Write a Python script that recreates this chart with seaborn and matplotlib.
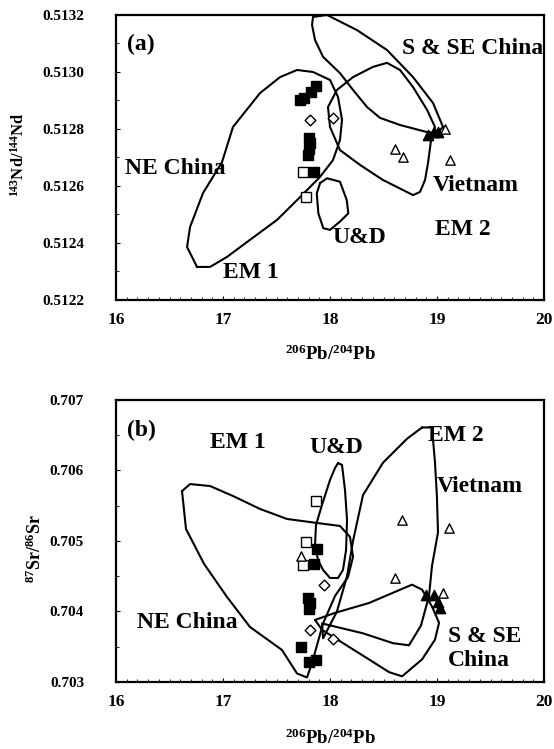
import numpy as np
import pandas as pd
import matplotlib
matplotlib.use("Agg")
import matplotlib.pyplot as plt
import seaborn as sns
from matplotlib.ticker import MultipleLocator, FormatStrFormatter

# ---------------- data : panel (a)  206Pb/204Pb vs 143Nd/144Nd ----------------
a_fsq_x = [17.87, 17.82, 17.76, 17.72, 17.80, 17.81, 17.80, 17.79, 17.85]
a_fsq_y = [0.51295, 0.51293, 0.51291, 0.51290, 0.51277, 0.51275, 0.51273, 0.51271, 0.51265]
a_osq_x = [17.75, 17.78]
a_osq_y = [0.51265, 0.51256]
a_odia_x = [17.81, 18.03]
a_odia_y = [0.51283, 0.51284]
a_ftri_x = [18.92, 18.97, 19.01]
a_ftri_y = [0.51278, 0.51279, 0.51279]
a_otri_x = [18.61, 18.68, 19.12, 19.07]
a_otri_y = [0.51273, 0.51270, 0.51269, 0.51280]

# field outlines (a)
a_ne_x = [16.757, 16.879, 17.037, 17.252, 17.505, 17.720, 17.907, 18.028, 18.093, 18.112,
          18.075, 18.000, 17.841, 17.692, 17.533, 17.346, 17.093, 16.991, 16.813, 16.692, 16.664]
a_ne_y = [0.512316, 0.512316, 0.512351, 0.512411, 0.512481, 0.512561, 0.512632, 0.512691, 0.512761, 0.512832,
          0.512912, 0.512972, 0.513000, 0.513007, 0.512982, 0.512926, 0.512807, 0.512684, 0.512575, 0.512456, 0.512386]
a_ud_x = [17.907, 17.972, 18.093, 18.156, 18.171, 18.093, 18.000, 17.937, 17.891, 17.876]
a_ud_y = [0.512610, 0.512627, 0.512615, 0.512551, 0.512504, 0.512475, 0.512446, 0.512452, 0.512504, 0.512574]
a_sse_x = [17.841, 17.972, 18.252, 18.533, 18.776, 18.963, 19.056, 19.000, 18.907, 18.654, 18.467,
           18.346, 18.215, 18.093, 17.935, 17.860, 17.832]
a_sse_y = [0.513193, 0.513200, 0.513147, 0.513077, 0.512982, 0.512891, 0.512807, 0.512786, 0.512789, 0.512814, 0.512839,
           0.512877, 0.512937, 0.512996, 0.513053, 0.513112, 0.513165]
a_vn_x = [18.953, 18.916, 18.888, 18.841, 18.776, 18.495, 18.280, 18.093, 18.000, 17.981, 18.065,
          18.215, 18.402, 18.533, 18.654, 18.776, 18.907, 18.981]
a_vn_y = [0.512786, 0.512681, 0.512621, 0.512579, 0.512568, 0.512621, 0.512674, 0.512726, 0.512807, 0.512877, 0.512937,
          0.512982, 0.513018, 0.513032, 0.513007, 0.512947, 0.512867, 0.512807]

# ---------------- data : panel (b)  206Pb/204Pb vs 87Sr/86Sr ----------------
b_fsq_x = [17.88, 17.85, 17.79, 17.81, 17.80, 17.73, 17.80, 17.87]
b_fsq_y = [0.70489, 0.70467, 0.70419, 0.70412, 0.70403, 0.70349, 0.70329, 0.70331]
b_osq_x = [17.87, 17.78, 17.75]
b_osq_y = [0.70556, 0.70499, 0.70466]
b_odia_x = [17.94, 17.81, 18.03]
b_odia_y = [0.70438, 0.70374, 0.70361]
b_otri_x = [17.73, 18.67, 19.11, 18.61, 19.06]
b_otri_y = [0.70478, 0.70530, 0.70519, 0.70447, 0.70426]
b_ftri_x = [18.90, 18.97, 19.01, 19.03]
b_ftri_y = [0.70423, 0.70423, 0.70414, 0.70405]

b_ud_x = [18.075, 18.112, 18.140, 18.159, 18.150, 18.121, 18.075, 18.000, 17.935, 17.888, 17.860, 17.869, 17.925, 18.000, 18.047]
b_ud_y = [0.706106, 0.706078, 0.705723, 0.705298, 0.704872, 0.704589, 0.704475, 0.704475, 0.704589, 0.704730,
          0.704943, 0.705227, 0.705511, 0.705865, 0.706035]
b_ne_x = [16.617, 16.692, 16.879, 17.093, 17.346, 17.598, 17.879, 18.093, 18.187, 18.215, 18.168,
          18.047, 17.935, 17.832, 17.785, 17.692, 17.551, 17.252, 17.037, 16.823, 16.654]
b_ne_y = [0.705708, 0.705807, 0.705779, 0.705638, 0.705454, 0.705312, 0.705255, 0.705213, 0.705057, 0.704774, 0.704489,
          0.704220, 0.703830, 0.703270, 0.703064, 0.703120, 0.703454, 0.703780, 0.704206, 0.704674, 0.705170]
b_vn_x = [18.860, 18.953, 18.981, 18.999, 19.009, 18.953, 18.925, 18.850, 18.738, 18.589, 18.308, 17.925,
          17.935, 18.065, 18.159, 18.215, 18.308, 18.495, 18.720]
b_vn_y = [0.706610, 0.706610, 0.706113, 0.705631, 0.705120, 0.704646, 0.704220, 0.703800, 0.703520, 0.703550, 0.703690, 0.703830,
          0.703620, 0.704000, 0.704500, 0.705000, 0.705650, 0.706110, 0.706450]
b_sse_x = [17.860, 18.047, 18.364, 18.766, 18.860, 18.953, 19.019, 18.981, 18.860, 18.673, 18.551, 18.364, 18.112, 17.925]
b_sse_y = [0.703880, 0.703980, 0.704120, 0.704380, 0.704310, 0.704070, 0.703840, 0.703600, 0.703320, 0.703080,
           0.703140, 0.703320, 0.703560, 0.703740]

SERIF = ["Liberation Serif", "DejaVu Serif"]
sns.set_theme(style="white")
plt.rcParams["font.family"] = SERIF
plt.rcParams["font.weight"] = "bold"
plt.rcParams["text.color"] = "black"
plt.rcParams["axes.labelcolor"] = "black"
plt.rcParams["xtick.color"] = "black"
plt.rcParams["ytick.color"] = "black"
plt.rcParams["mathtext.fontset"] = "custom"
plt.rcParams["mathtext.rm"] = "Liberation Serif:bold"
plt.rcParams["mathtext.it"] = "Liberation Serif:bold"
plt.rcParams["mathtext.bf"] = "Liberation Serif:bold"
plt.rcParams["mathtext.default"] = "regular"

fig = plt.figure(figsize=(5.54, 7.49), dpi=100)
fig.patch.set_facecolor("white")
ax1 = fig.add_axes([0.2094, 0.5995, 0.7726, 0.3805])
ax2 = fig.add_axes([0.2094, 0.0895, 0.7726, 0.3765])

MS = 48


def pts(ax, xs, ys, marker, filled, s=MS):
    df = pd.DataFrame({"x": xs, "y": ys})
    sns.scatterplot(data=df, x="x", y="y", ax=ax, marker=marker, s=s,
                    color=("black" if filled else "white"), edgecolor="black",
                    linewidth=1.0, legend=False, zorder=5)


def field(ax, xs, ys):
    xx = list(xs) + [xs[0]]
    yy = list(ys) + [ys[0]]
    ax.plot(xx, yy, color="black", lw=1.5, solid_joinstyle="round", zorder=3)


# ---- panel (a)
for xs, ys in [(a_ne_x, a_ne_y), (a_ud_x, a_ud_y), (a_sse_x, a_sse_y), (a_vn_x, a_vn_y)]:
    field(ax1, xs, ys)
pts(ax1, a_fsq_x, a_fsq_y, "s", True)
pts(ax1, a_osq_x, a_osq_y, "s", False)
pts(ax1, a_odia_x, a_odia_y, "D", False, s=30)
pts(ax1, a_ftri_x, a_ftri_y, "^", True, s=55)
pts(ax1, a_otri_x, a_otri_y, "^", False, s=45)

# ---- panel (b)
for xs, ys in [(b_ne_x, b_ne_y), (b_ud_x, b_ud_y), (b_vn_x, b_vn_y), (b_sse_x, b_sse_y)]:
    field(ax2, xs, ys)
pts(ax2, b_fsq_x, b_fsq_y, "s", True)
pts(ax2, b_osq_x, b_osq_y, "s", False)
pts(ax2, b_odia_x, b_odia_y, "D", False, s=30)
pts(ax2, b_otri_x, b_otri_y, "^", False, s=45)
pts(ax2, b_ftri_x, b_ftri_y, "^", True, s=55)

TXT = dict(fontsize=17, fontweight="bold", family=SERIF, va="center", ha="left",
           color="black", zorder=6)
ax1.text(16.10, 0.513095, "(a)", **TXT)
ax1.text(16.08, 0.51266, "NE China", **TXT)
ax1.text(17.00, 0.512295, "EM 1", **TXT)
ax1.text(18.02, 0.512418, "U&D", **TXT)
ax1.text(18.98, 0.512446, "EM 2", **TXT)
ax1.text(18.96, 0.512603, "Vietnam", **TXT)
ax1.text(18.67, 0.513084, "S & SE China", **TXT)

ax2.text(16.10, 0.70657, "(b)", **TXT)
ax2.text(16.88, 0.70640, "EM 1", **TXT)
ax2.text(17.81, 0.70633, "U&D", **TXT)
ax2.text(18.92, 0.70650, "EM 2", **TXT)
ax2.text(19.00, 0.70577, "Vietnam", **TXT)
ax2.text(19.10, 0.70364, "S & SE", **TXT)
ax2.text(19.10, 0.70331, "China", **TXT)
ax2.text(16.20, 0.70384, "NE China", **TXT)

for ax, (y0, y1), ymaj, ymin, fmt in [
        (ax1, (0.5122, 0.5132), 0.0002, 0.0001, "%.4f"),
        (ax2, (0.703, 0.707), 0.001, 0.0005, "%.3f")]:
    ax.set_xlim(16, 20)
    ax.set_ylim(y0, y1)
    ax.xaxis.set_major_locator(MultipleLocator(1))
    ax.xaxis.set_minor_locator(MultipleLocator(0.1))
    ax.yaxis.set_major_locator(MultipleLocator(ymaj))
    ax.yaxis.set_minor_locator(MultipleLocator(ymin))
    ax.xaxis.set_major_formatter(FormatStrFormatter("%d"))
    ax.yaxis.set_major_formatter(FormatStrFormatter(fmt))
    ax.tick_params(axis="both", which="major", direction="in", length=3, width=0.8,
                   bottom=True, left=True, colors="black")
    ax.tick_params(axis="both", which="minor", direction="in", length=2, width=0.6,
                   bottom=True, left=True, colors="black")
    ax.tick_params(axis="x", which="major", pad=9, labelsize=12.5)
    ax.tick_params(axis="y", which="major", pad=23, labelsize=11)
    for lab in ax.get_xticklabels() + ax.get_yticklabels():
        lab.set_fontweight("bold")
        lab.set_family(SERIF)
    for sp in ax.spines.values():
        sp.set_color("black")
        sp.set_linewidth(1.6)
    ax.set_facecolor("white")
    ax.grid(False)

ax1.set_xlabel(r"$^{206}$Pb/$^{204}$Pb", fontsize=13.5, fontweight="bold")
ax2.set_xlabel(r"$^{206}$Pb/$^{204}$Pb", fontsize=13.5, fontweight="bold")
ax1.set_ylabel(r"$^{143}$Nd/$^{144}$Nd", fontsize=12, fontweight="bold")
ax2.set_ylabel(r"$^{87}$Sr/$^{86}$Sr", fontsize=13, fontweight="bold")
ax1.xaxis.set_label_coords(0.5, -0.155)
ax2.xaxis.set_label_coords(0.5, -0.165)
ax1.yaxis.set_label_coords(-0.207, 0.509)
ax2.yaxis.set_label_coords(-0.167, 0.475)

fig.savefig("out.png", dpi=100, facecolor="white")
